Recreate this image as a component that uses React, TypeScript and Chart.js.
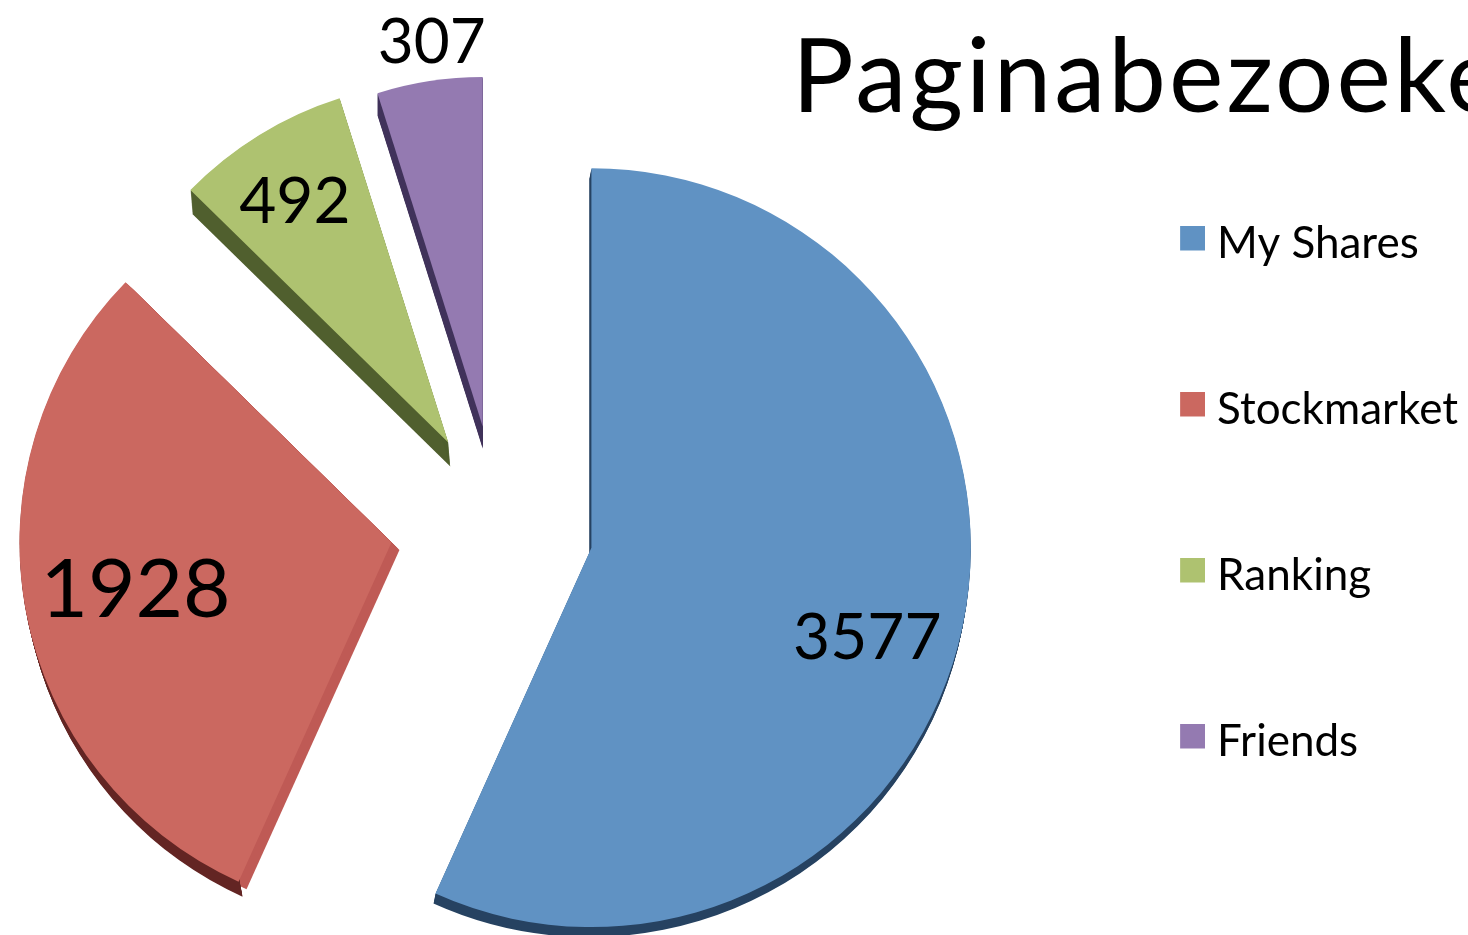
import React, { useEffect, useRef } from "react";
import { Chart, registerables } from "chart.js";

Chart.register(...registerables);

const categories = ["My Shares", "Stockmarket", "Ranking", "Friends"];
const visits = [3577, 1928, 492, 307];
const sliceColors = ["#6092c3", "#cb6860", "#aec270", "#947ab1"];
const explode = [96, 108, 94, 97];
const sliceNudgeY = [5, 0, 0, 0];
const radiusFactors = [1.02, 1.0, 0.97, 0.94];
const labelSizes = [64, 82, 64, 62];
const pieShift = { dx: -26.5, dy: 5 };
const labelPlacement = [
  { turn: 6, reach: 0.765 },
  { turn: 0, reach: 0.7 },
  { turn: -1, reach: 0.79 },
  { turn: 1.2, reach: 1.107 },
];
const sideLayers = [
  [{ dx: -2, dy: 10, color: "#264261", rimOnly: false }],
  [
    { dx: 8, dy: 7.6, color: "#bf5a55", rimOnly: false },
    { dx: 4, dy: 15, color: "#632523", rimOnly: true },
  ],
  [{ dx: 2, dy: 24, color: "#505f2e", rimOnly: false }],
  [{ dx: 0, dy: 22, color: "#40325a", rimOnly: false }],
];
const chartTitle = "Paginabezoeken";
const FONT = "Lato, Carlito, 'Open Sans', sans-serif";

function legendSwatch(color: string) {
  // Transparent margin on the left and below moves the square towards its label.
  const c = document.createElement("canvas");
  c.width = 45;
  c.height = 37;
  const g = c.getContext("2d") as CanvasRenderingContext2D;
  g.fillStyle = color;
  g.fillRect(20, 0, 25, 25);
  return c;
}

const piePlugin = {
  id: "pieExtras",
  beforeDatasetsDraw(chart: any) {
    const ctx = chart.ctx;
    const arcs = chart.getDatasetMeta(0).data;
    arcs.forEach((arc: any, i: number) => {
      if (arc.$baseR === undefined) {
        arc.$baseR = arc.outerRadius;
        arc.$baseX = arc.x + pieShift.dx;
        arc.$baseY = arc.y + pieShift.dy;
      }
      const mid = (arc.startAngle + arc.endAngle) / 2;
      arc.outerRadius = arc.$baseR * radiusFactors[i];
      arc.x = arc.$baseX + Math.cos(mid) * explode[i];
      arc.y = arc.$baseY + Math.sin(mid) * explode[i] + sliceNudgeY[i];
      sideLayers[i].forEach((l) => {
        const steps = Math.ceil(Math.max(Math.abs(l.dx), Math.abs(l.dy)));
        ctx.save();
        ctx.fillStyle = l.color;
        for (let s = 1; s <= steps; s++) {
          const x = arc.x + (l.dx * s) / steps;
          const y = arc.y + (l.dy * s) / steps;
          ctx.beginPath();
          if (!l.rimOnly) ctx.moveTo(x, y);
          ctx.arc(x, y, arc.outerRadius, arc.startAngle, arc.endAngle);
          ctx.closePath();
          ctx.fill();
        }
        ctx.restore();
      });
    });
  },
  afterDatasetsDraw(chart: any) {
    const ctx = chart.ctx;
    const arcs = chart.getDatasetMeta(0).data;
    ctx.save();
    ctx.fillStyle = "#000";
    ctx.textAlign = "center";
    ctx.textBaseline = "middle";
    arcs.forEach((arc: any, i: number) => {
      const mid = (arc.startAngle + arc.endAngle) / 2;
      const a = mid + (labelPlacement[i].turn * Math.PI) / 180;
      const r = arc.outerRadius * labelPlacement[i].reach;
      ctx.font = `${labelSizes[i]}px ${FONT}`;
      ctx.fillText(String(visits[i]), arc.x + Math.cos(a) * r, arc.y + Math.sin(a) * r);
    });
    ctx.textAlign = "left";
    ctx.textBaseline = "alphabetic";
    ctx.font = `103px ${FONT}`;
    ctx.letterSpacing = "3px";
    ctx.fillText(chartTitle, 792, 112);
    ctx.restore();
  },
};

export default function App() {
  const ref = useRef<HTMLCanvasElement>(null);
  useEffect(() => {
    document.body.style.margin = "0";
    document.body.style.overflow = "hidden";
    const chart = new Chart(ref.current as HTMLCanvasElement, {
      type: "pie",
      data: {
        labels: categories,
        datasets: [
          {
            data: visits,
            backgroundColor: sliceColors,
            borderWidth: 0,
            hoverOffset: 0,
          },
        ],
      },
      options: {
        responsive: false,
        animation: false,
        events: [],
        radius: 372,
        layout: { padding: { left: -62, top: 100, right: 0, bottom: -27 } },
        plugins: {
          tooltip: { enabled: false },
          legend: {
            display: true,
            position: "right",
            align: "start",
            labels: {
              boxWidth: 25,
              boxHeight: 25,
              padding: 122,
              color: "#222",
              usePointStyle: true,
              font: { size: 44, family: FONT },
              generateLabels: () =>
                categories.map((text, index) => ({
                  text,
                  index,
                  pointStyle: legendSwatch(sliceColors[index]),
                  fillStyle: sliceColors[index],
                  strokeStyle: sliceColors[index],
                  lineWidth: 0,
                  hidden: false,
                })),
            },
          },
        },
      },
      plugins: [piePlugin],
    } as any);
    return () => chart.destroy();
  }, []);
  return (
    <canvas
      ref={ref}
      width={1468}
      height={935}
      style={{ display: "block", width: 1468, height: 935, filter: "blur(0.6px)" }}
    />
  );
}
